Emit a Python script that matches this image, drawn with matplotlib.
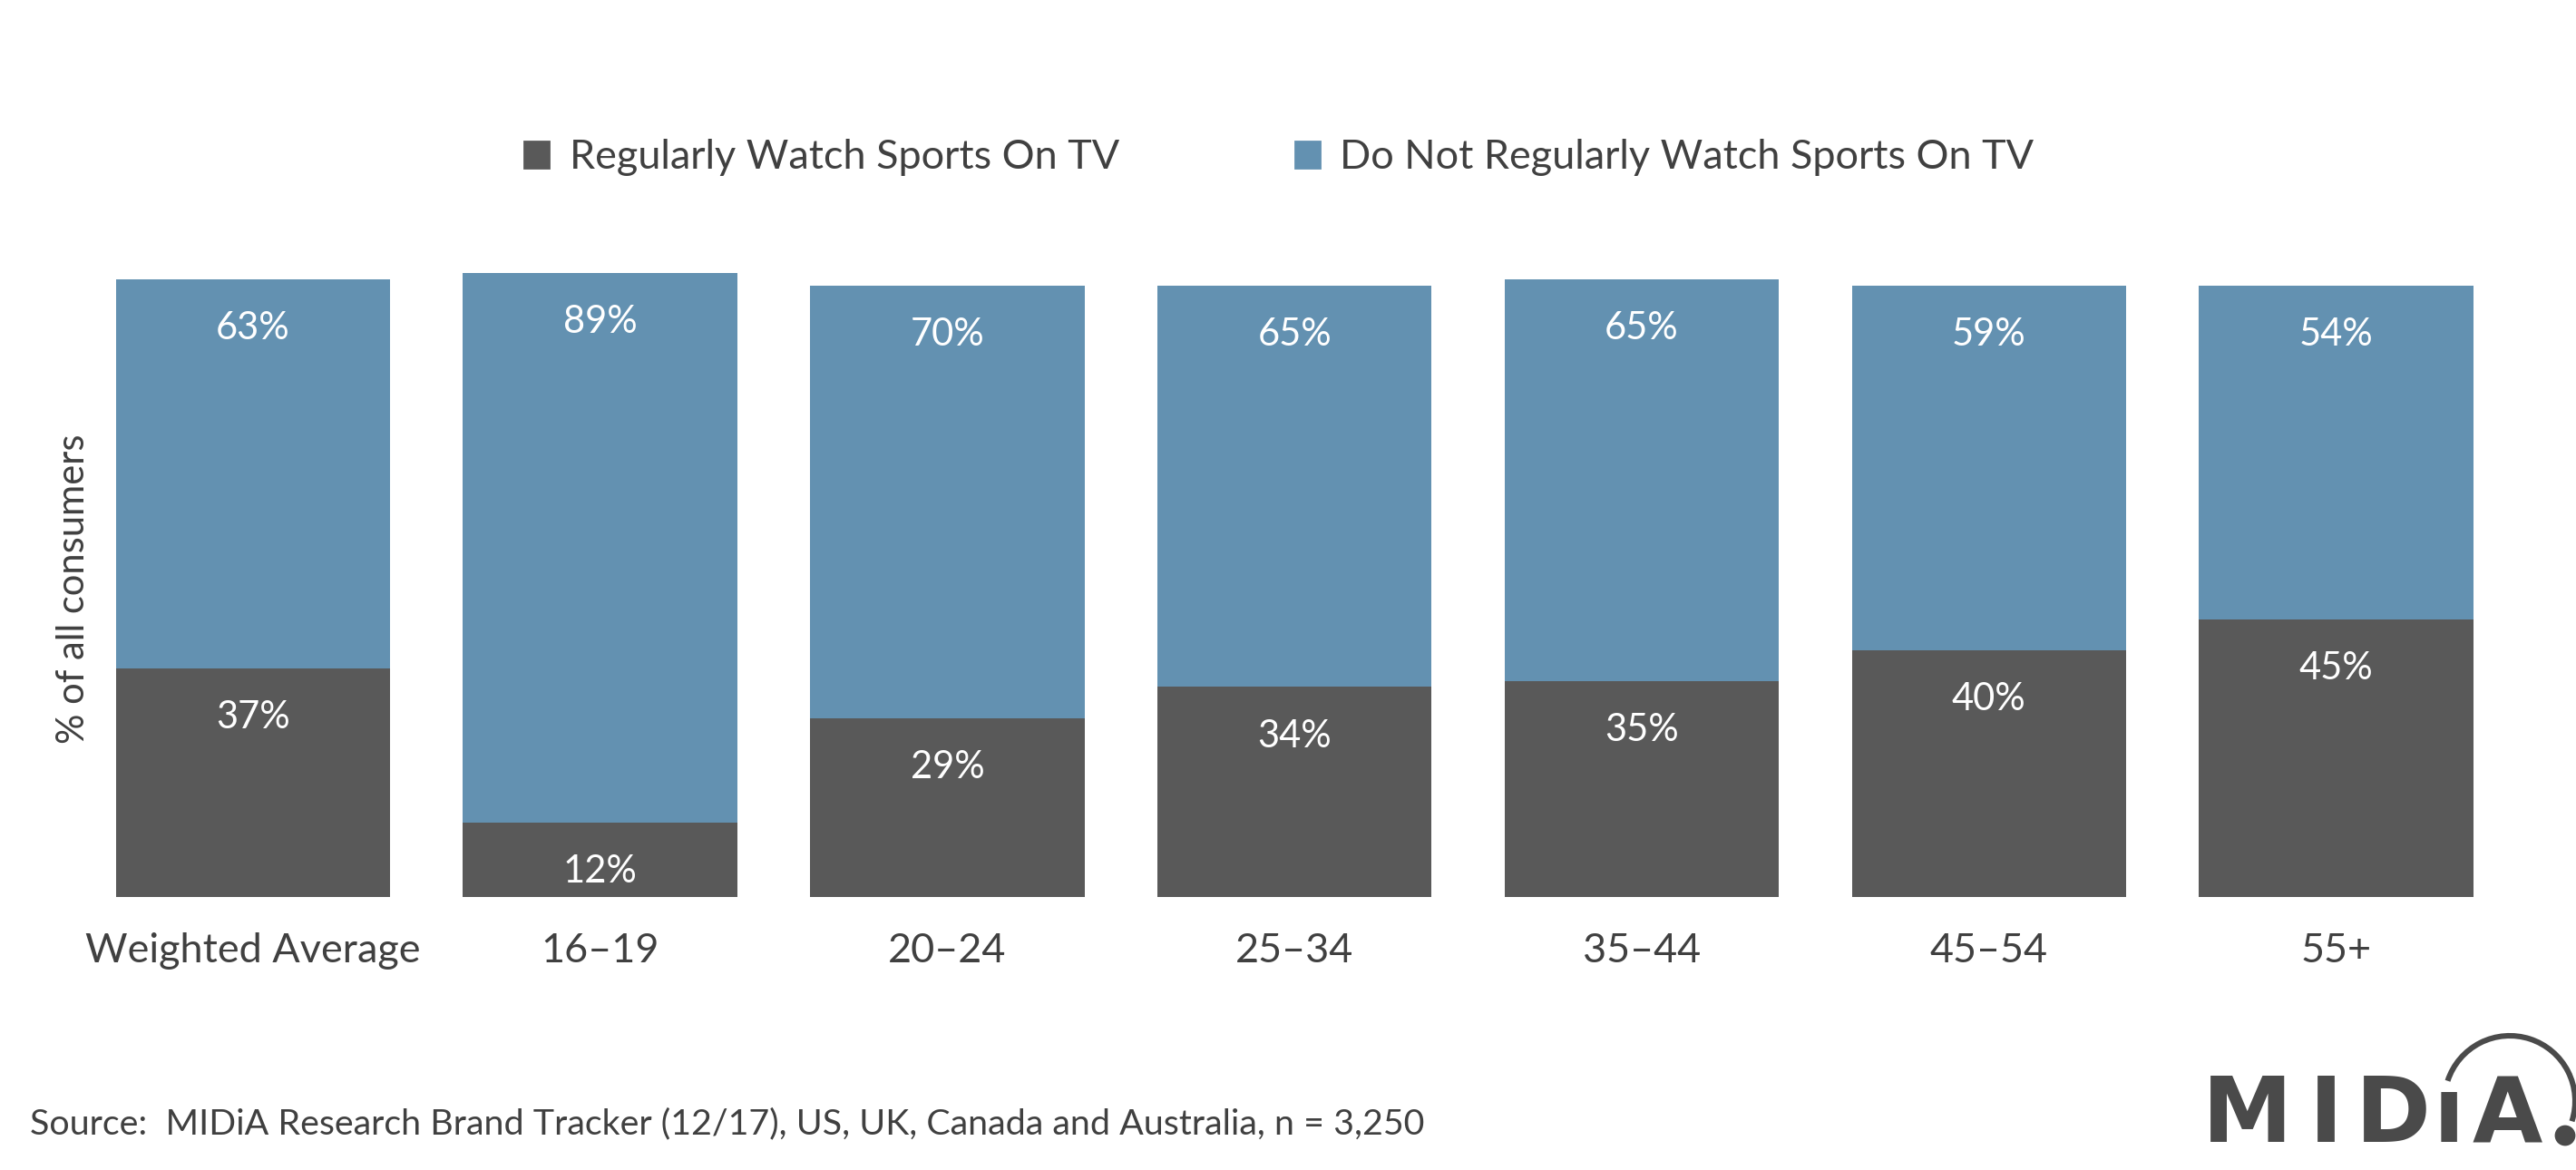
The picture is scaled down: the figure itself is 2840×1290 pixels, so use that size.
import numpy as np
import matplotlib.pyplot as plt
from matplotlib.patches import Patch, Arc, Circle

plt.rcParams['font.family'] = ['Lato', 'DejaVu Sans']

# data
categories = ['Weighted Average', '16\u201319', '20\u201324', '25\u201334', '35\u201344', '45\u201354', '55+']
watch = [37, 12, 29, 34, 35, 40, 45]
not_watch = [63, 89, 70, 65, 65, 59, 54]
series_names = ['Regularly Watch Sports On TV', 'Do Not Regularly Watch Sports On TV']

DARK = '#595959'
BLUE = '#6391B1'
TEXT = '#404040'

W, H = 2840, 1290
fig = plt.figure(figsize=(W / 200, H / 200), dpi=200)
ax = fig.add_axes([87.5 / W, 1 - 989 / H, (2767 - 87.5) / W, 715 / H])

x = np.arange(len(categories))
b1 = ax.bar(x, watch, width=0.79, color=DARK)
b2 = ax.bar(x, not_watch, width=0.79, bottom=watch, color=BLUE)

# value labels near the top of each segment
for bars, vals, bots in ((b1, watch, [0] * len(watch)), (b2, not_watch, watch)):
    for rect, v, b in zip(bars, vals, bots):
        ax.annotate(f'{v}%', (rect.get_x() + rect.get_width() / 2, b + v),
                    xytext=(0, -19.5), textcoords='offset points',
                    ha='center', va='center', color='white', fontsize=15)

ax.set_xlim(-0.5, len(categories) - 0.5)
ax.set_ylim(0, 105)
ax.set_xticks(x)
ax.set_xticklabels(categories, fontsize=16.2, color=TEXT)
ax.tick_params(axis='x', length=0, pad=14)
ax.set_yticks([])
for s in ax.spines.values():
    s.set_visible(False)

fig.text(81 / W, 1 - 649 / H, '% of all consumers', rotation=90,
         ha='center', va='center', fontsize=15, color=TEXT)

handles = [Patch(color=DARK), Patch(color=BLUE)]
fig.legend(handles, series_names, loc='center', bbox_to_anchor=(0.4966, 1 - 174 / H),
           ncol=2, frameon=False, fontsize=16.2, labelcolor=TEXT,
           handlelength=0.6, handleheight=0.6, handletextpad=0.5, columnspacing=4.3)

fig.text(33 / W, 1 - 1239 / H,
         'Source:  MIDiA Research Brand Tracker (12/17), US, UK, Canada and Australia, n = 3,250',
         ha='left', va='center', fontsize=14.2, color=TEXT)

# logo
lg = fig.add_axes([0, 0, 1, 1], facecolor='none')
lg.set_xlim(0, W)
lg.set_ylim(0, H)
lg.axis('off')
LOGO = '#4a4a4a'
for ch, lx in (('M', 2428), ('I', 2546), ('D', 2597), ('\u0131', 2683), ('A', 2726)):
    lg.text(lx, H - 1259, ch, ha='left', va='baseline', fontsize=36,
            fontweight='bold', color=LOGO, family='DejaVu Sans')
lg.add_patch(Arc((2767, H - 1214), 144, 144, theta1=-18, theta2=162,
                 color=LOGO, lw=2.2))
lg.add_patch(Circle((2828, H - 1252), 10, color=LOGO))

fig.savefig('out.png', dpi=200, facecolor='white')
